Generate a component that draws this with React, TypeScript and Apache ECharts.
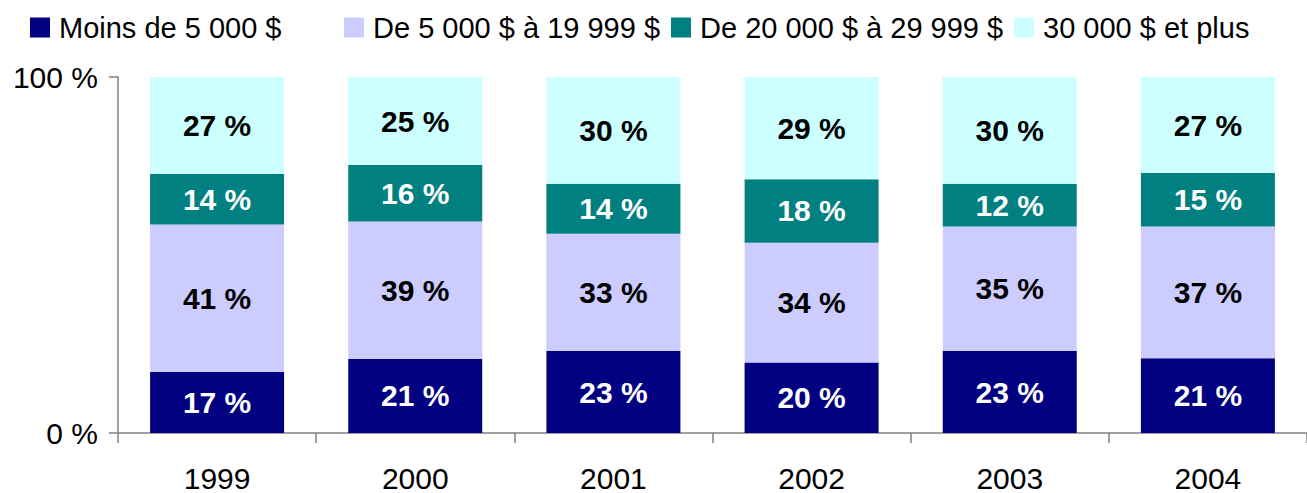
import React, { useEffect, useRef } from "react";
import * as echarts from "echarts";

const years = ["1999", "2000", "2001", "2002", "2003", "2004"];
const seriesNames = [
  "Moins de 5 000 $",
  "De 5 000 $ à 19 999 $",
  "De 20 000 $ à 29 999 $",
  "30 000 $ et plus",
];
const under5000 = [17, 21, 23, 20, 23, 21];
const from5000to19999 = [41, 39, 33, 34, 35, 37];
const from20000to29999 = [14, 16, 14, 18, 12, 15];
const over30000 = [27, 25, 30, 29, 30, 27];
const yTicks = [0, 100];

const colors = ["#000080", "#CCCCFF", "#008080", "#CCFFFF"];
const labelColors = ["#FFFFFF", "#000000", "#FFFFFF", "#000000"];
const legendLefts = [30, 344, 671, 1014];
const FONT = "'Liberation Sans', Arial, sans-serif";

export default function App() {
  const ref = useRef<HTMLDivElement>(null);
  useEffect(() => {
    if (!ref.current) return;
    const chart = echarts.init(ref.current, null, { renderer: "svg" });
    const raw = [under5000, from5000to19999, from20000to29999, over30000];
    const totals = years.map((_, i) => raw.reduce((s, arr) => s + arr[i], 0));
    const series = raw.map((arr, k) => ({
      name: seriesNames[k],
      type: "bar",
      stack: "total",
      barWidth: 134,
      itemStyle: { color: colors[k] },
      data: arr.map((v, i) => (v / totals[i]) * 100),
      label: {
        show: true,
        position: "inside",
        color: labelColors[k],
        fontSize: 30,
        fontWeight: "bold",
        fontFamily: FONT,
        formatter: (p: any) => `${arr[p.dataIndex]} %`,
      },
    }));
    chart.setOption({
      animation: false,
      legend: seriesNames.map((n, k) => ({
        data: [n],
        left: legendLefts[k],
        top: 13,
        icon: "rect",
        itemWidth: 20,
        itemHeight: 20,
        padding: 0,
        textStyle: { fontSize: 29, fontFamily: FONT, color: "#000", padding: [0, 0, 0, 4] },
        selectedMode: false,
      })),
      grid: { left: 118, top: 77, height: 356, width: 1196, containLabel: false },
      xAxis: {
        type: "category",
        data: years,
        axisLine: { lineStyle: { color: "#808080", width: 1.5 } },
        axisTick: { show: true, length: 10, lineStyle: { color: "#808080", width: 1.5 } },
        axisLabel: { fontSize: 30, fontFamily: FONT, color: "#000", margin: 30 },
      },
      yAxis: {
        type: "value",
        min: yTicks[0],
        max: yTicks[1],
        interval: 100,
        splitLine: { show: false },
        axisLine: { show: true, lineStyle: { color: "#808080", width: 1.5 } },
        axisTick: { show: true, length: 9, lineStyle: { color: "#808080", width: 1.5 } },
        axisLabel: {
          fontSize: 30,
          fontFamily: FONT,
          color: "#000",
          margin: 20,
          formatter: (v: number) => `${v} %`,
        },
      },
      series,
    });
    return () => chart.dispose();
  }, []);
  return (
    <div
      ref={ref}
      style={{ position: "absolute", left: 0, top: 0, width: 1307, height: 493, background: "#fff" }}
    />
  );
}
